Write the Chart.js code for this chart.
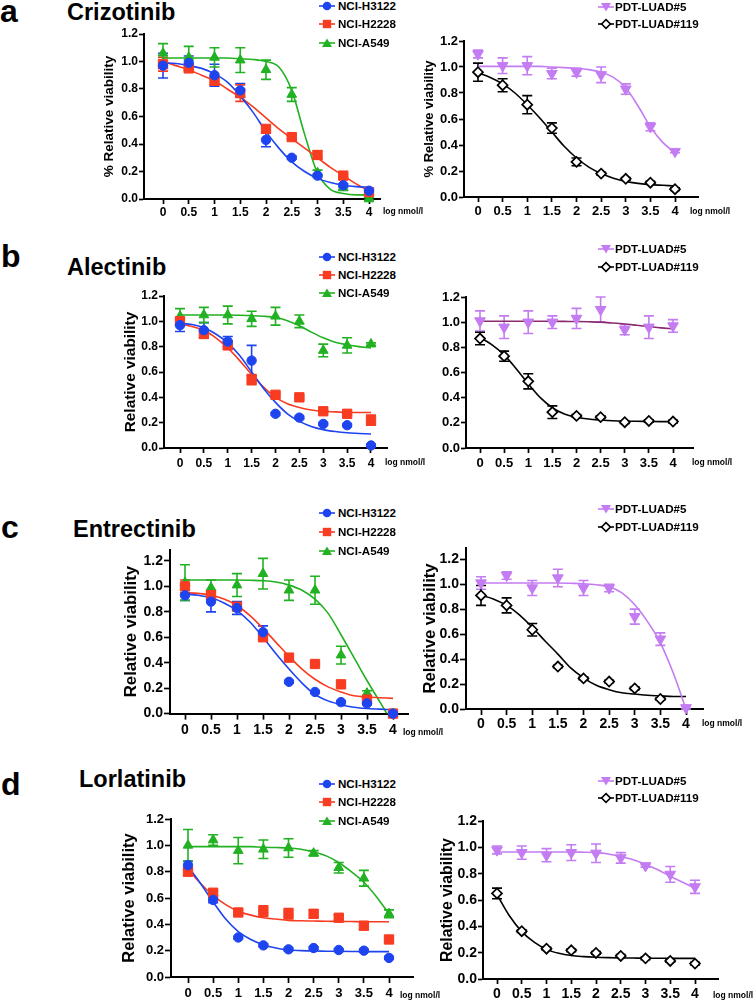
<!DOCTYPE html>
<html>
<head>
<meta charset="utf-8">
<script src="https://cdn.jsdelivr.net/npm/chart.js@4.4.1/dist/chart.umd.min.js"></script>
<style>
  body { margin: 0; background: #fff; }
  #page { position: relative; width: 755px; height: 1001px; overflow: hidden; background: #fff;
          font-family: "Liberation Sans", Arial, Helvetica, sans-serif; font-weight: bold; color: #000; }
  #page canvas, #page svg { position: absolute; }
  .txt { position: absolute; white-space: nowrap; line-height: 1; }
</style>
</head>
<body>
<div id="page"></div>
<script>
// doses (log nmol/l) and axis ticks
const doses = [0, 0.5, 1, 1.5, 2, 2.5, 3, 3.5, 4];
const doseLabels = ['0', '0.5', '1', '1.5', '2', '2.5', '3', '3.5', '4'];
const fitDoses = [0, 0.25, 0.5, 0.75, 1, 1.25, 1.5, 1.75, 2, 2.25, 2.5, 2.75, 3, 3.25, 3.5, 3.75, 4];
const viabilityTicks = [0, 0.2, 0.4, 0.6, 0.8, 1.0, 1.2];
const cellLines = ['NCI-H3122', 'NCI-H2228', 'NCI-A549'];
const pdtLines = ['PDT-LUAD#5', 'PDT-LUAD#119'];
const drugs = ['Crizotinib', 'Alectinib', 'Entrectinib', 'Lorlatinib'];
const letters = ['a', 'b', 'c', 'd'];

// Crizotinib
const crizH3122 = [0.97, 0.99, 0.90, 0.79, 0.43, 0.30, 0.17, 0.10, 0.06];
const crizH3122Err = [0.09, 0.05, 0.08, 0.05, 0.05, 0.01, 0.01, 0.01, 0.01];
const crizH3122Fit = [0.99, 0.985, 0.97, 0.95, 0.91, 0.85, 0.75, 0.63, 0.49, 0.37, 0.27, 0.20, 0.15, 0.12, 0.10, 0.09, 0.085];
const crizH2228 = [0.98, 0.95, 0.86, 0.77, 0.51, 0.45, 0.32, 0.17, 0.05];
const crizH2228Err = [0.05, 0.02, 0.03, 0.06, 0.02, 0.01, 0.03, 0.01, 0.02];
const crizH2228Fit = [1.00, 0.97, 0.94, 0.90, 0.86, 0.80, 0.74, 0.67, 0.59, 0.51, 0.44, 0.37, 0.30, 0.23, 0.17, 0.11, 0.06];
const crizA549 = [1.06, 1.03, 1.03, 1.01, 0.94, 0.76, 0.19, 0.08, 0.00];
const crizA549Err = [0.07, 0.08, 0.07, 0.09, 0.07, 0.05, 0.02, 0.01, 0.01];
const crizA549Fit = [1.025, 1.025, 1.025, 1.025, 1.025, 1.025, 1.02, 1.015, 1.0, 0.96, 0.79, 0.47, 0.19, 0.07, 0.04, 0.03, 0.03];
const crizLuad5 = [1.10, 1.01, 1.01, 0.95, 0.96, 0.94, 0.83, 0.54, 0.35];
const crizLuad5Err = [0.03, 0.06, 0.07, 0.04, 0.03, 0.06, 0.04, 0.03, 0.01];
const crizLuad5Fit = [1.005, 1.005, 1.005, 1.005, 1.005, 1.005, 1.0, 0.995, 0.99, 0.98, 0.96, 0.92, 0.84, 0.70, 0.54, 0.42, 0.34];
const crizLuad119 = [0.96, 0.86, 0.71, 0.53, 0.27, 0.18, 0.14, 0.11, 0.06];
const crizLuad119Err = [0.07, 0.05, 0.07, 0.04, 0.03, 0.01, 0.01, 0.01, 0.01];
const crizLuad119Fit = [0.955, 0.92, 0.87, 0.80, 0.71, 0.61, 0.50, 0.39, 0.30, 0.23, 0.18, 0.145, 0.12, 0.105, 0.095, 0.09, 0.085];

// Alectinib
const alecH3122 = [0.97, 0.93, 0.84, 0.69, 0.27, 0.24, 0.19, 0.18, 0.02];
const alecH3122Err = [0.05, 0.06, 0.04, 0.12, 0.01, 0.01, 0.01, 0.01, 0.01];
const alecH3122Fit = [0.985, 0.975, 0.95, 0.90, 0.83, 0.73, 0.60, 0.47, 0.36, 0.27, 0.21, 0.17, 0.145, 0.13, 0.12, 0.115, 0.11];
const alecH2228 = [1.00, 0.90, 0.81, 0.54, 0.42, 0.40, 0.29, 0.27, 0.22];
const alecH2228Err = [0.03, 0.03, 0.03, 0.04, 0.01, 0.01, 0.01, 0.01, 0.04];
const alecH2228Fit = [0.98, 0.96, 0.93, 0.87, 0.79, 0.69, 0.58, 0.48, 0.40, 0.35, 0.32, 0.30, 0.29, 0.285, 0.28, 0.28, 0.28];
const alecA549 = [1.04, 1.05, 1.05, 1.02, 1.04, 1.00, 0.77, 0.81, 0.82];
const alecA549Err = [0.06, 0.06, 0.07, 0.06, 0.07, 0.05, 0.05, 0.06, 0.01];
const alecA549Fit = [1.05, 1.05, 1.05, 1.05, 1.05, 1.048, 1.045, 1.04, 1.03, 1.005, 0.965, 0.915, 0.87, 0.835, 0.815, 0.80, 0.79];
const alecLuad5 = [1.01, 0.96, 1.00, 1.00, 1.03, 1.10, 0.94, 0.96, 0.97];
const alecLuad5Err = [0.08, 0.09, 0.09, 0.05, 0.08, 0.10, 0.04, 0.09, 0.05];
const alecLuad5Fit = [1.007, 1.007, 1.007, 1.007, 1.007, 1.007, 1.007, 1.006, 1.005, 1.003, 1.0, 0.993, 0.985, 0.975, 0.965, 0.955, 0.948];
const alecLuad119 = [0.87, 0.73, 0.53, 0.285, 0.255, 0.245, 0.205, 0.215, 0.21];
const alecLuad119Err = [0.05, 0.04, 0.06, 0.05, 0.01, 0.01, 0.01, 0.01, 0.01];
const alecLuad119Fit = [0.88, 0.82, 0.74, 0.63, 0.51, 0.40, 0.32, 0.27, 0.245, 0.23, 0.222, 0.216, 0.213, 0.212, 0.211, 0.21, 0.21];

// Entrectinib
const entrH3122 = [0.93, 0.88, 0.83, 0.64, 0.25, 0.17, 0.09, 0.08, 0.00];
const entrH3122Err = [0.04, 0.08, 0.05, 0.05, 0.01, 0.01, 0.01, 0.01, 0.01];
const entrH3122Fit = [0.94, 0.93, 0.91, 0.87, 0.81, 0.72, 0.60, 0.47, 0.35, 0.24, 0.15, 0.10, 0.07, 0.05, 0.04, 0.035, 0.03];
const entrH2228 = [1.00, 0.93, 0.84, 0.60, 0.44, 0.39, 0.23, 0.11, 0.00];
const entrH2228Err = [0.05, 0.04, 0.02, 0.02, 0.01, 0.01, 0.01, 0.02, 0.01];
const entrH2228Fit = [0.95, 0.945, 0.93, 0.90, 0.85, 0.77, 0.67, 0.56, 0.45, 0.35, 0.27, 0.21, 0.17, 0.14, 0.13, 0.125, 0.12];
const entrA549 = [1.03, 0.99, 1.01, 1.10, 0.97, 0.97, 0.46, 0.16, 0.00];
const entrA549Err = [0.14, 0.06, 0.09, 0.12, 0.08, 0.11, 0.07, 0.02, 0.01];
const entrA549Fit = [1.05, 1.05, 1.05, 1.05, 1.05, 1.048, 1.045, 1.035, 1.01, 0.97, 0.90, 0.79, 0.62, 0.44, 0.26, 0.09, -0.08];
const entrLuad5 = [1.01, 1.07, 0.97, 1.05, 0.97, 0.97, 0.74, 0.56, 0.01];
const entrLuad5Err = [0.05, 0.03, 0.06, 0.07, 0.06, 0.03, 0.06, 0.05, 0.01];
const entrLuad5Fit = [1.01, 1.01, 1.01, 1.01, 1.01, 1.01, 1.01, 1.007, 1.003, 0.995, 0.98, 0.93, 0.835, 0.70, 0.53, 0.29, 0.0];
const entrLuad119 = [0.91, 0.83, 0.635, 0.34, 0.245, 0.22, 0.165, 0.08, null];
const entrLuad119Err = [0.08, 0.06, 0.05, 0.01, 0.01, 0.01, 0.01, 0.01, 0];
const entrLuad119Fit = [0.91, 0.88, 0.83, 0.755, 0.655, 0.545, 0.44, 0.33, 0.25, 0.19, 0.155, 0.13, 0.12, 0.11, 0.105, 0.10, 0.10];

// Lorlatinib
const lorlH3122 = [0.85, 0.585, 0.30, 0.24, 0.21, 0.22, 0.205, 0.20, 0.145];
const lorlH3122Err = [0.03, 0.02, 0.01, 0.01, 0.01, 0.01, 0.01, 0.01, 0.01];
const lorlH3122Fit = [0.84, 0.71, 0.57, 0.44, 0.345, 0.285, 0.245, 0.22, 0.205, 0.20, 0.197, 0.196, 0.195, 0.194, 0.193, 0.193, 0.193];
const lorlH2228 = [0.80, 0.64, 0.49, 0.50, 0.48, 0.48, 0.45, 0.39, 0.285];
const lorlH2228Err = [0.03, 0.02, 0.02, 0.04, 0.04, 0.03, 0.02, 0.03, 0.01];
const lorlH2228Fit = [0.82, 0.71, 0.62, 0.55, 0.50, 0.47, 0.45, 0.44, 0.43, 0.427, 0.425, 0.423, 0.422, 0.421, 0.42, 0.42, 0.42];
const lorlA549 = [1.00, 1.04, 0.96, 0.97, 0.98, 0.94, 0.83, 0.75, 0.48];
const lorlA549Err = [0.12, 0.04, 0.10, 0.07, 0.07, 0.02, 0.04, 0.06, 0.03];
const lorlA549Fit = [0.99, 0.99, 0.99, 0.99, 0.99, 0.99, 0.985, 0.983, 0.98, 0.97, 0.95, 0.92, 0.87, 0.80, 0.72, 0.61, 0.48];
const lorlLuad5 = [0.98, 0.96, 0.94, 0.96, 0.955, 0.92, 0.86, 0.795, 0.70];
const lorlLuad5Err = [0.03, 0.05, 0.05, 0.06, 0.07, 0.04, 0.01, 0.06, 0.05];
const lorlLuad5Fit = [0.965, 0.965, 0.965, 0.965, 0.965, 0.965, 0.965, 0.963, 0.96, 0.95, 0.93, 0.905, 0.87, 0.83, 0.78, 0.735, 0.69];
const lorlLuad119 = [0.65, 0.363, 0.23, 0.218, 0.198, 0.175, 0.157, 0.137, 0.117];
const lorlLuad119Err = [0.04, 0.01, 0.01, 0.01, 0.01, 0.01, 0.01, 0.01, 0.01];
const lorlLuad119Fit = [0.64, 0.48, 0.36, 0.28, 0.225, 0.195, 0.178, 0.17, 0.165, 0.162, 0.16, 0.159, 0.158, 0.158, 0.157, 0.157, 0.157];

// look of each cell line
const styles = {
  H3122: { color: '#1e44f0', point: 'circle', radius: 4.7 },
  H2228: { color: '#f83c21', point: 'rect', radius: 6.6 },
  A549: { color: '#22b122', point: 'triangle', radius: 5.6 },
  LUAD5: { color: '#c47cf2', point: 'triangle', radius: 6.2, rotation: 180 },
  LUAD119: { color: '#000000', point: 'rectRot', radius: 5, fill: '#ffffff' }
};
const leftKeys = ['H3122', 'H2228', 'A549'];
const rightKeys = ['LUAD5', 'LUAD119'];

Chart.defaults.font.family = '"Liberation Sans", Arial, Helvetica, sans-serif';
Chart.defaults.color = '#000';

const page = document.getElementById('page');

function text(str, x, baseline, size) {
  const d = document.createElement('div');
  d.className = 'txt';
  d.textContent = str;
  d.style.left = x + 'px';
  d.style.top = (baseline - 0.8465 * size) + 'px';
  d.style.fontSize = size + 'px';
  page.appendChild(d);
}

function markerSvg(st) {
  const c = st.color;
  let shape;
  if (st.point === 'circle') shape = `<circle cx="8" cy="6" r="4.3" fill="${c}"/>`;
  else if (st.point === 'rect') shape = `<rect x="3.8" y="1.8" width="8.4" height="8.4" fill="${c}"/>`;
  else if (st.point === 'triangle' && st.rotation) shape = `<polygon points="3,2 13,2 8,10.5" fill="${c}"/>`;
  else if (st.point === 'triangle') shape = `<polygon points="8,1.5 13,10 3,10" fill="${c}"/>`;
  else shape = `<polygon points="8,1.6 12.4,6 8,10.4 3.6,6" fill="#fff" stroke="${c}" stroke-width="1.6"/>`;
  return `<line x1="0" y1="6" x2="16" y2="6" stroke="${c}" stroke-width="1.6"/>` + shape;
}

function legend(keys, labels, lineX, textX, rows) {
  keys.forEach((k, i) => {
    const svg = document.createElementNS('http://www.w3.org/2000/svg', 'svg');
    svg.setAttribute('width', 16);
    svg.setAttribute('height', 12);
    svg.style.left = lineX + 'px';
    svg.style.top = (rows[i] - 6) + 'px';
    svg.innerHTML = markerSvg(styles[k]);
    page.appendChild(svg);
    text(labels[i], textX, rows[i] + 4.2, 11.6);
  });
}

// error bars drawn under the markers
const errorBars = {
  id: 'errorBars',
  beforeDatasetsDraw(chart) {
    const ctx = chart.ctx;
    const ys = chart.scales.y;
    chart.data.datasets.forEach((ds, i) => {
      if (!ds.errors) return;
      const meta = chart.getDatasetMeta(i);
      ctx.save();
      ctx.strokeStyle = ds.errorColor;
      ctx.lineWidth = 1.6;
      meta.data.forEach((pt, j) => {
        const v = ds.data[j].y;
        const e = ds.errors[j];
        if (v == null || !e) return;
        const y1 = ys.getPixelForValue(v + e);
        const y2 = ys.getPixelForValue(v - e);
        ctx.beginPath();
        ctx.moveTo(pt.x, y1); ctx.lineTo(pt.x, y2);
        ctx.moveTo(pt.x - 5, y1); ctx.lineTo(pt.x + 5, y1);
        ctx.moveTo(pt.x - 5, y2); ctx.lineTo(pt.x + 5, y2);
        ctx.stroke();
      });
      ctx.restore();
    });
  }
};

function pointSet(key, label, values, errors) {
  const st = styles[key];
  return {
    label: label,
    data: doses.map((d, i) => ({ x: d, y: values[i] })),
    errors: errors,
    errorColor: st.color,
    showLine: false,
    clip: false,
    pointStyle: st.point,
    rotation: st.rotation || 0,
    pointRadius: st.radius,
    pointHoverRadius: st.radius,
    pointBackgroundColor: st.fill || st.color,
    pointBorderColor: st.color,
    pointBorderWidth: st.fill ? 1.7 : 1,
    borderColor: st.color
  };
}

function fitSet(key, values, color) {
  return {
    data: fitDoses.map((d, i) => ({ x: d, y: values[i] })),
    borderColor: color || styles[key].color,
    borderWidth: 1.6,
    pointRadius: 0,
    cubicInterpolationMode: 'monotone',
    fill: false
  };
}

const panels = [
  { left: 144, top: 34, right: 380, bottom: 199, x0: 163, x4: 369, yMax: 1.2, tick: 12, tickLen: 5, tickPad: 1,
    title: '% Relative viability', titleFont: 13.5, titleX: 110, log: [383, 214], keys: leftKeys, labels: cellLines,
    legend: [319, 338, [6, 24, 43]],
    points: [[crizH3122, crizH3122Err], [crizH2228, crizH2228Err], [crizA549, crizA549Err]],
    fits: [crizH3122Fit, crizH2228Fit, crizA549Fit] },
  { left: 464, top: 41, right: 698, bottom: 197, x0: 478, x4: 675, yMax: 1.2, tick: 13, tickLen: 5, tickPad: 2,
    title: '% Relative viability', titleFont: 13, titleX: 430, log: [690, 214], keys: rightKeys, labels: pdtLines,
    legend: [598, 615, [7, 24]],
    points: [[crizLuad5, crizLuad5Err], [crizLuad119, crizLuad119Err]],
    fits: [crizLuad5Fit, crizLuad119Fit] },
  { left: 164, top: 296, right: 387, bottom: 448, x0: 180, x4: 371, yMax: 1.2, tick: 12, tickLen: 5, tickPad: 3,
    title: 'Relative viability', titleFont: 15.4, titleX: 132, log: [385, 465], keys: leftKeys, labels: cellLines,
    legend: [319, 338, [257, 275, 293]],
    points: [[alecH3122, alecH3122Err], [alecH2228, alecH2228Err], [alecA549, alecA549Err]],
    fits: [alecH3122Fit, alecH2228Fit, alecA549Fit] },
  { left: 466, top: 297, right: 693, bottom: 448, x0: 480, x4: 673, yMax: 1.2, tick: 13, tickLen: 5, tickPad: 3,
    title: '', titleFont: 13, titleX: 0, log: [692, 465], keys: rightKeys, labels: pdtLines,
    legend: [598, 615, [249, 267]],
    points: [[alecLuad5, alecLuad5Err], [alecLuad119, alecLuad119Err]],
    fits: [alecLuad5Fit, alecLuad119Fit], fitColors: ['#8a2b6f', null] },
  { left: 170, top: 549.5, right: 408, bottom: 713.6, x0: 185, x4: 393, yMax: 1.29, tick: 14, tickLen: 6, tickPad: 2,
    title: 'Relative viability', titleFont: 16.8, titleX: 132, log: [403, 735], keys: leftKeys, labels: cellLines,
    legend: [319, 338, [513, 532, 551]],
    points: [[entrH3122, entrH3122Err], [entrH2228, entrH2228Err], [entrA549, entrA549Err]],
    fits: [entrH3122Fit, entrH2228Fit, entrA549Fit] },
  { left: 466, top: 548, right: 703, bottom: 709, x0: 481, x4: 686, yMax: 1.29, tick: 14, tickLen: 6, tickPad: 1,
    title: 'Relative viability', titleFont: 16.6, titleX: 430, log: [702, 726], keys: rightKeys, labels: pdtLines,
    legend: [598, 615, [509, 527]],
    points: [[entrLuad5, entrLuad5Err], [entrLuad119, entrLuad119Err]],
    fits: [entrLuad5Fit, entrLuad119Fit] },
  { left: 171, top: 819, right: 413, bottom: 977, x0: 188, x4: 389, yMax: 1.2, tick: 13, tickLen: 6, tickPad: 3,
    title: 'Relative viability', titleFont: 16.5, titleX: 130, log: [400, 998], keys: leftKeys, labels: cellLines,
    legend: [319, 338, [784, 802, 821]],
    points: [[lorlH3122, lorlH3122Err], [lorlH2228, lorlH2228Err], [lorlA549, lorlA549Err]],
    fits: [lorlH3122Fit, lorlH2228Fit, lorlA549Fit] },
  { left: 483, top: 821, right: 718, bottom: 979, x0: 497, x4: 695, yMax: 1.2, tick: 14, tickLen: 5, tickPad: 2,
    title: 'Relative viability', titleFont: 15.8, titleX: 448, log: [713, 998], keys: rightKeys, labels: pdtLines,
    legend: [598, 615, [781, 798]],
    points: [[lorlLuad5, lorlLuad5Err], [lorlLuad119, lorlLuad119Err]],
    fits: [lorlLuad5Fit, lorlLuad119Fit] }
];

// panel letters and drug names
const headX = [[0, 67], [1, 67], [1, 73], [1, 79]];
const headBase = [[22.5, 21], [267, 276], [538, 538], [795, 788]];
drugs.forEach((d, i) => {
  text(letters[i], headX[i][0], headBase[i][0], 32);
  text(d, headX[i][1], headBase[i][1], 23.5);
});

panels.forEach(p => {
  const cLeft = p.title ? Math.floor(p.titleX - 0.6 * p.titleFont) : p.left - 40;
  const cTop = Math.floor(p.top) - 12;
  const cRight = Math.ceil(p.right) + 14;
  const cBottom = Math.ceil(p.bottom) + 30;
  const yWidth = p.left - cLeft;
  const xHeight = cBottom - p.bottom;
  const ppu = (p.x4 - p.x0) / 4;

  const cv = document.createElement('canvas');
  cv.width = cRight - cLeft;
  cv.height = cBottom - cTop;
  cv.style.left = cLeft + 'px';
  cv.style.top = cTop + 'px';
  page.appendChild(cv);

  const pts = p.points.map((s, i) => pointSet(p.keys[i], p.labels[i], s[0], s[1]));
  const fits = p.fits.map((f, i) => fitSet(p.keys[i], f, p.fitColors ? p.fitColors[i] : null));

  const gridOpts = { drawOnChartArea: false, color: '#000', tickColor: '#000', tickLength: p.tickLen, tickWidth: 1.7 };
  const tickFont = { size: p.tick, weight: 'bold' };

  new Chart(cv.getContext('2d'), {
    type: 'line',
    data: { datasets: pts.concat(fits) },
    options: {
      animation: false,
      responsive: false,
      events: [],
      layout: { padding: { top: p.top - cTop, right: cRight - p.right, left: 0, bottom: 0 } },
      plugins: { legend: { display: false }, tooltip: { enabled: false } },
      scales: {
        x: {
          type: 'linear',
          min: (p.left - p.x0) / ppu,
          max: 4 + (p.right - p.x4) / ppu,
          afterBuildTicks: s => { s.ticks = doses.map(v => ({ value: v })); },
          afterFit: s => { s.height = xHeight; },
          grid: gridOpts,
          border: { color: '#000', width: 2 },
          ticks: { color: '#000', font: tickFont, padding: p.tickPad, maxRotation: 0, autoSkip: false,
                   callback: (v, i) => doseLabels[i] }
        },
        y: {
          type: 'linear',
          min: 0,
          max: p.yMax,
          afterBuildTicks: s => { s.ticks = viabilityTicks.map(v => ({ value: v })); },
          afterFit: s => { s.width = yWidth; },
          grid: gridOpts,
          border: { color: '#000', width: 2 },
          ticks: { color: '#000', font: tickFont, padding: 1, callback: v => v.toFixed(1) },
          title: { display: !!p.title, text: p.title, color: '#000', padding: 0,
                   font: { size: p.titleFont, weight: 'bold' } }
        }
      }
    },
    plugins: [errorBars]
  });

  legend(p.keys, p.labels, p.legend[0], p.legend[1], p.legend[2]);
  text('log nmol/l', p.log[0], p.log[1], 8.5);
});
</script>
</body>
</html>
